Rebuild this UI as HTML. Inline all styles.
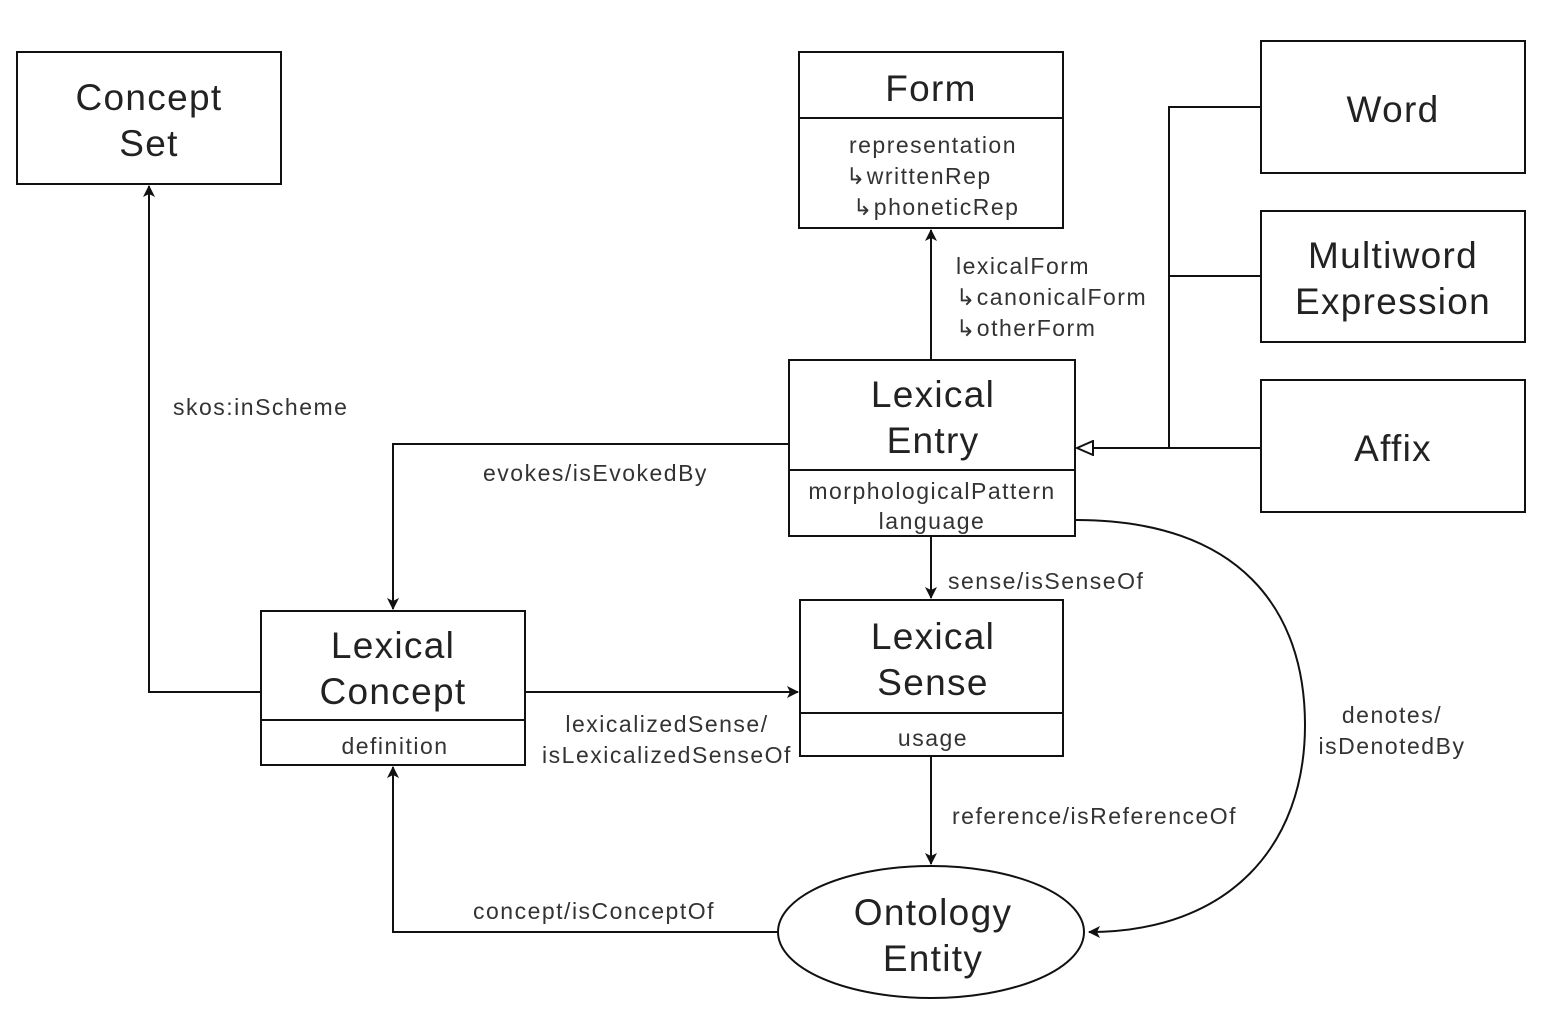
<!DOCTYPE html>
<html><head><meta charset="utf-8"><style>
html,body{margin:0;padding:0;background:#fff;}
svg{display:block;font-family:"Liberation Sans",Arial,sans-serif;}
.t{font-size:37px;fill:#222;text-anchor:middle;letter-spacing:1.3px;}
.a{font-size:23px;fill:#333;text-anchor:middle;letter-spacing:1.5px;}
.l{font-size:23px;fill:#333;letter-spacing:1.5px;}
.b{fill:#fff;stroke:#111;stroke-width:2;}
.ln{fill:none;stroke:#111;stroke-width:2;}
</style></head><body>
<svg width="1552" height="1010" viewBox="0 0 1552 1010" xmlns="http://www.w3.org/2000/svg">
<defs>
<marker id="ar" markerWidth="12" markerHeight="12" refX="11" refY="6" orient="auto" markerUnits="userSpaceOnUse">
<path d="M0,0 L12,6 L0,12 L3,6 Z" fill="#111"/></marker>
<marker id="tri" markerWidth="18" markerHeight="16" refX="17" refY="8" orient="auto" markerUnits="userSpaceOnUse">
<path d="M1,1 L17,8 L1,15 Z" fill="#fff" stroke="#111" stroke-width="2"/></marker>
</defs>

<path class="ln" d="M261,692 H149 V186" marker-end="url(#ar)"/>
<path class="ln" d="M931,360 V230" marker-end="url(#ar)"/>
<path class="ln" d="M1261,107 H1169 V448"/>
<path class="ln" d="M1261,276 H1169"/>
<path class="ln" d="M1261,448 H1077" marker-end="url(#tri)"/>
<path class="ln" d="M789,444 H393 V609" marker-end="url(#ar)"/>
<path class="ln" d="M931,536 V598" marker-end="url(#ar)"/>
<path class="ln" d="M525,692 H798" marker-end="url(#ar)"/>
<path class="ln" d="M931,756 V864" marker-end="url(#ar)"/>
<path class="ln" d="M778,932 H393 V767" marker-end="url(#ar)"/>
<path class="ln" d="M1076,520 C1240,520 1305,610 1305,725 C1305,845 1230,932 1089,932" marker-end="url(#ar)"/>

<rect class="b" x="17" y="52" width="264" height="132"/>
<text class="t" x="149" y="110">Concept</text><text class="t" x="149" y="156">Set</text>

<rect class="b" x="799" y="52" width="264" height="176"/>
<line class="ln" x1="799" y1="118" x2="1063" y2="118"/>
<text class="t" x="931" y="101">Form</text>
<text class="a" x="933" y="153">representation</text>
<text class="l" x="846" y="184">↳writtenRep</text>
<text class="l" x="853" y="215">↳phoneticRep</text>

<rect class="b" x="1261" y="41" width="264" height="132"/>
<text class="t" x="1393" y="122">Word</text>
<rect class="b" x="1261" y="211" width="264" height="131"/>
<text class="t" x="1393" y="268">Multiword</text><text class="t" x="1393" y="314">Expression</text>
<rect class="b" x="1261" y="380" width="264" height="132"/>
<text class="t" x="1393" y="461">Affix</text>

<rect class="b" x="789" y="360" width="286" height="176"/>
<line class="ln" x1="789" y1="470" x2="1075" y2="470"/>
<text class="t" x="933" y="407">Lexical</text><text class="t" x="933" y="453">Entry</text>
<text class="a" x="932" y="499" letter-spacing="0.5">morphologicalPattern</text>
<text class="a" x="932" y="529">language</text>

<rect class="b" x="261" y="611" width="264" height="154"/>
<line class="ln" x1="261" y1="720" x2="525" y2="720"/>
<text class="t" x="393" y="658">Lexical</text><text class="t" x="393" y="704">Concept</text>
<text class="a" x="395" y="754">definition</text>

<rect class="b" x="800" y="600" width="263" height="156"/>
<line class="ln" x1="800" y1="713" x2="1063" y2="713"/>
<text class="t" x="933" y="649">Lexical</text><text class="t" x="933" y="695">Sense</text>
<text class="a" x="933" y="746">usage</text>

<ellipse class="b" cx="931" cy="932" rx="153" ry="66"/>
<text class="t" x="933" y="925">Ontology</text><text class="t" x="933" y="971">Entity</text>

<text class="l" x="173" y="415">skos:inScheme</text>
<text class="l" x="956" y="274">lexicalForm</text>
<text class="l" x="956" y="305">↳canonicalForm</text>
<text class="l" x="956" y="336">↳otherForm</text>
<text class="l" x="483" y="481">evokes/isEvokedBy</text>
<text class="l" x="948" y="589">sense/isSenseOf</text>
<text class="a" x="667" y="732">lexicalizedSense/</text>
<text class="a" x="667" y="763" letter-spacing="0.6">isLexicalizedSenseOf</text>
<text class="l" x="952" y="824">reference/isReferenceOf</text>
<text class="l" x="473" y="919">concept/isConceptOf</text>
<text class="a" x="1392" y="723">denotes/</text>
<text class="a" x="1392" y="754">isDenotedBy</text>
</svg>
</body></html>
